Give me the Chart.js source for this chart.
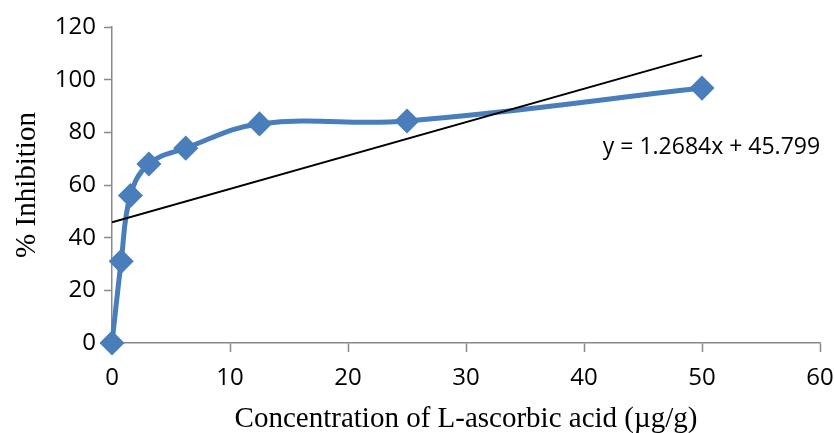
<!DOCTYPE html>
<html>
<head>
<meta charset="utf-8">
<script src="https://cdn.jsdelivr.net/npm/chart.js@4.4.1/dist/chart.umd.min.js"></script>
<style>
  html, body { margin: 0; padding: 0; background: #fff; }
  #wrap { width: 834px; height: 433px; }
</style>
</head>
<body>
<div id="wrap"><canvas id="myChart" width="834" height="433"></canvas></div>
<script>
// Data
var concentration = [0, 0.78, 1.56, 3.125, 6.25, 12.5, 25, 50];
var inhibition = [0, 31, 56, 68, 74, 83.2, 84.3, 96.8];
var xTicks = [0, 10, 20, 30, 40, 50, 60];
var yTicks = [0, 20, 40, 60, 80, 100, 120];

// Linear trendline shown on the chart
var slope = 1.2684;
var intercept = 45.799;
var trendLabel = 'y = 1.2684x + 45.799';

window.onload = function () {
    var points = concentration.map(function (c, i) { return { x: c, y: inhibition[i] }; });
    var xMin = concentration[0], xMax = concentration[concentration.length - 1];
    var trend = [
        { x: xMin, y: slope * xMin + intercept },
        { x: xMax, y: slope * xMax + intercept }
    ];

    var tickFont = { family: '"Open Sans", sans-serif', size: 24 };
    var titleFont = { family: '"Liberation Serif", "Times New Roman", serif', size: 29, lineHeight: 1 };
    var axisGray = '#898989';

    // draws the trendline equation next to the line
    var equationPlugin = {
        id: 'equation',
        afterDatasetsDraw: function (chart) {
            var c = chart.ctx;
            var px = chart.scales.x.getPixelForValue(50.8);
            var py = chart.scales.y.getPixelForValue(74.4);
            c.save();
            c.font = '23px "Open Sans", sans-serif';
            c.fillStyle = '#000';
            c.textAlign = 'center';
            c.textBaseline = 'middle';
            c.fillText(trendLabel, px, py);
            c.restore();
        }
    };

    var ctx = document.getElementById('myChart').getContext('2d');
    var myChart = new Chart(ctx, {
        type: 'scatter',
        data: {
            datasets: [{
                label: '% Inhibition',
                data: points,
                showLine: true,
                tension: 0.4,
                clip: false,
                borderColor: '#4A7EBB',
                borderWidth: 5,
                backgroundColor: '#4A7EBB',
                pointStyle: 'rectRot',
                pointRadius: 9,
                pointHoverRadius: 9,
                order: 1
            },
            {
                label: 'Linear',
                data: trend,
                showLine: true,
                borderColor: '#000',
                borderWidth: 2,
                pointRadius: 0,
                order: 0
            }]
        },
        options: {
            responsive: false,
            animation: false,
            layout: { padding: { top: 27, right: 0, left: 6, bottom: 0 } },
            plugins: {
                legend: { display: false },
                tooltip: { enabled: false }
            },
            scales: {
                x: {
                    type: 'linear',
                    min: 0,
                    max: 60,
                    afterBuildTicks: function (axis) {
                        axis.ticks = xTicks.map(function (v) { return { value: v }; });
                    },
                    grid: { drawOnChartArea: false, drawTicks: true, tickLength: 9, tickColor: axisGray, tickWidth: 1.5 },
                    border: { color: axisGray, width: 1.5 },
                    ticks: { font: tickFont, color: '#000', padding: 12, maxRotation: 0 },
                    title: { display: true, text: 'Concentration of L-ascorbic acid (µg/g)', font: titleFont, color: '#000', padding: { top: 4, bottom: -1 } },
                    afterFit: function (scale) {
                        scale.height = 90;
                        scale.paddingRight = 14;
                    }
                },
                y: {
                    type: 'linear',
                    min: 0,
                    max: 120,
                    afterBuildTicks: function (axis) {
                        axis.ticks = yTicks.map(function (v) { return { value: v }; });
                    },
                    grid: { drawOnChartArea: false, drawTicks: true, tickLength: 8, tickColor: axisGray, tickWidth: 1.5 },
                    border: { color: axisGray, width: 1.5 },
                    ticks: { font: tickFont, color: '#000', padding: 8 },
                    title: { display: true, text: '% Inhibition', font: { family: titleFont.family, size: 29 }, color: '#000', padding: { bottom: 8 } },
                    afterFit: function (scale) { scale.width = 106; }
                }
            }
        },
        plugins: [equationPlugin]
    });
};
</script>
</body>
</html>
